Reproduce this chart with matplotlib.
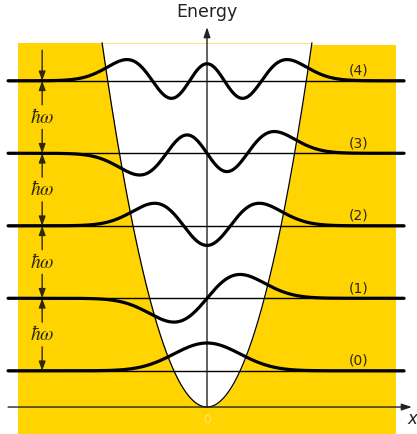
import numpy as np
import matplotlib
matplotlib.use("Agg")
import matplotlib.pyplot as plt
from math import factorial, pi, sqrt

# ---- data ----
levels = [0, 1, 2, 3, 4]                 # quantum numbers n
level_labels = ["(0)", "(1)", "(2)", "(3)", "(4)"]
energy_offset = 0.5                      # E_n = (n + 1/2) hbar*omega
psi_scale = 0.51                         # drawing amplitude of wavefunctions (energy units)
x_min, x_max = -6.01, 5.95               # extent of level lines / wavefunctions
well_top = 5.02                          # top of the potential drawing
yellow_x = (-5.71, 5.71)
ylim = (-0.372, 5.614)
xlim = (-6.254, 6.344)

YELLOW = "#FFD400"
TEXT = "#2e2810"


def hermite(n, x):
    h0, h1 = np.ones_like(x), 2 * x
    if n == 0:
        return h0
    for k in range(1, n):
        h0, h1 = h1, 2 * x * h1 - 2 * k * h0
    return h1


def psi(n, x):
    return hermite(n, x) * np.exp(-x ** 2 / 2) / sqrt(2 ** n * factorial(n)) * pi ** -0.25


fig = plt.figure(figsize=(4.17, 4.34), dpi=100)
ax = fig.add_axes([0, 0, 1, 1])
ax.set_xlim(*xlim)
ax.set_ylim(*ylim)
ax.axis("off")

# yellow classically forbidden region
ax.fill_between(yellow_x, ylim[0], well_top, color=YELLOW, lw=0, zorder=0)
xt = sqrt(2 * well_top)
xp = np.linspace(-xt, xt, 400)
V = xp ** 2 / 2
ax.fill_between(xp, V, well_top, color="white", lw=0, zorder=1)
ax.plot(xp, V, color="black", lw=0.9, zorder=2)
ax.fill_between([xt, yellow_x[1]], well_top - 0.03, well_top, color="white", lw=0, zorder=1)

# levels and wavefunctions
x = np.linspace(x_min, x_max, 1200)
for n, lab in zip(levels, level_labels):
    E = n + energy_offset
    ax.plot([x_min, x_max], [E, E], color="black", lw=1.0, zorder=3)
    ax.plot(x, E + psi_scale * psi(n, x), color="black", lw=2.3, zorder=4,
            solid_capstyle="round")
    ax.text(4.58, E + 0.14, lab, fontsize=10, color=TEXT, ha="center", va="center",
            zorder=5)

# axes arrows
ax.annotate("", xy=(0, 5.24), xytext=(0, 0), zorder=3,
            arrowprops=dict(arrowstyle="-|>,head_length=0.6,head_width=0.2",
                            color="#222222", lw=1.0, shrinkA=0, shrinkB=0))
ax.annotate("", xy=(6.19, 0), xytext=(x_min, 0), zorder=3,
            arrowprops=dict(arrowstyle="-|>,head_length=0.6,head_width=0.2",
                            color="#222222", lw=1.0, shrinkA=0, shrinkB=0))
ax.text(0, 5.45, "Energy", fontsize=12.5, ha="center", va="center", color="#222222")
ax.text(6.05, -0.17, "x", fontsize=12, style="italic", ha="left", va="center",
        color="#222222")
ax.text(0, -0.18, "O", fontsize=7, ha="center", va="center", color="#FFE680", zorder=3)

# hbar omega spacing arrows
xa = -4.98
aprops = dict(arrowstyle="-|>,head_length=0.55,head_width=0.2", color=TEXT, lw=1.0,
              shrinkA=0, shrinkB=0)
ax.annotate("", xy=(xa, 4.5), xytext=(xa, 4.92), arrowprops=aprops, zorder=5)
for n in levels[:-1]:
    mid = n + 1.0
    ax.text(xa, mid, r"$\hbar\omega$", fontsize=14, ha="center", va="center",
            color=TEXT, zorder=5, math_fontfamily="stix")
    ax.annotate("", xy=(xa, n + 1.5), xytext=(xa, mid + 0.17), arrowprops=aprops, zorder=5)
    ax.annotate("", xy=(xa, n + 0.5), xytext=(xa, mid - 0.17), arrowprops=aprops, zorder=5)

fig.savefig("out.png", dpi=100)
